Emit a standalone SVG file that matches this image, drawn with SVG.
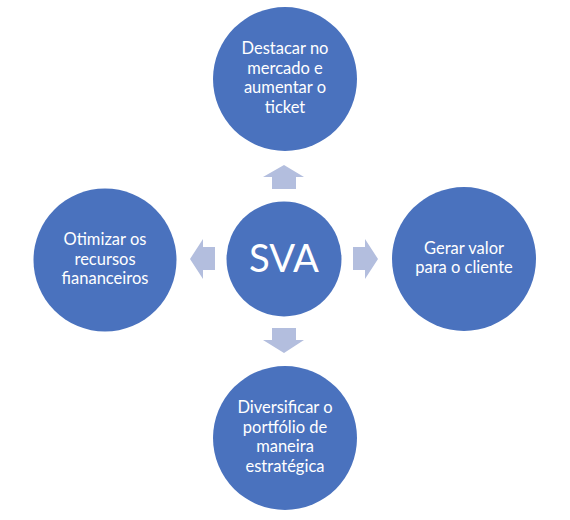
<svg xmlns="http://www.w3.org/2000/svg" width="570" height="520" viewBox="0 0 570 520">
<style>
.c{fill:#4A72BE}
.a{fill:#B3BEDE}
.t{font-family:Lato,"Liberation Sans",Arial,sans-serif;font-size:16.5px;fill:#FFFFFF;text-anchor:middle}
.big{font-family:Lato,"Liberation Sans",Arial,sans-serif;font-size:39px;fill:#FFFFFF;text-anchor:middle}
</style>
<rect width="570" height="520" fill="#FFFFFF"/>
<g id="connectors">
<polygon class="a" points="284,165 304,177 296,177 296,189 272,189 272,177 263,177"/>
<polygon class="a" points="284,353 304,340 296,340 296,328 272,328 272,340 263,340"/>
<polygon class="a" points="190,259 203,239 203,247 215,247 215,270 203,270 203,279"/>
<polygon class="a" points="378,259 365,239 365,247 353,247 353,270 365,270 365,279"/>
</g>
<g id="center">
<circle class="c" cx="284" cy="259" r="57.5"/>
<text class="big" x="284" y="272" textLength="70" lengthAdjust="spacingAndGlyphs">SVA</text>
</g>
<g id="top">
<circle class="c" cx="285" cy="79" r="72"/>
<text class="t" x="285" y="54">Destacar no</text>
<text class="t" x="285" y="73.5">mercado e</text>
<text class="t" x="285" y="93">aumentar o</text>
<text class="t" x="285" y="112.5">ticket</text>
</g>
<g id="left">
<circle class="c" cx="105" cy="260" r="71.5"/>
<text class="t" x="105" y="245">Otimizar os</text>
<text class="t" x="105" y="264.5">recursos</text>
<text class="t" x="105" y="284">fiananceiros</text>
</g>
<g id="right">
<circle class="c" cx="464" cy="259" r="72"/>
<text class="t" x="464" y="254">Gerar valor</text>
<text class="t" x="464" y="273">para o cliente</text>
</g>
<g id="bottom">
<circle class="c" cx="285" cy="438" r="72"/>
<text class="t" x="285" y="413">Diversificar o</text>
<text class="t" x="285" y="432.5">portfólio de</text>
<text class="t" x="285" y="452">maneira</text>
<text class="t" x="285" y="471.5">estratégica</text>
</g>
</svg>
